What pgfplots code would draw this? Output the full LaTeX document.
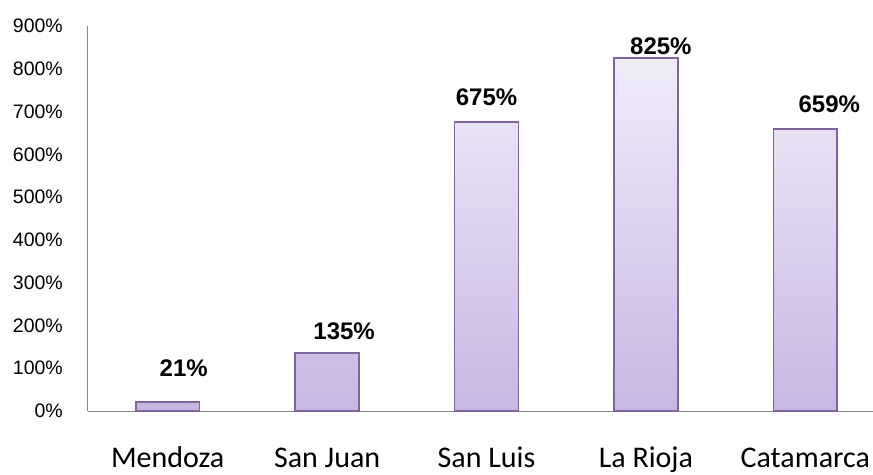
\documentclass[border=0pt]{standalone}
\usepackage{fontspec}
\setmainfont{Liberation Sans}
\newfontfamily\catfont{Carlito}
\usepackage{pgfplots}
\pgfplotsset{compat=1.18}
\usepackage{pgfplotstable}
\definecolor{barline}{HTML}{8064A2}
\definecolor{bartop}{HTML}{F0ECF8}
\definecolor{barbot}{HTML}{C8B6E3}
\definecolor{axgray}{HTML}{898989}
\pgfplotstableread{
x y dx dy lab
0 21 16 26 21
1 135 17 14 135
2 675 0 17 675
3 825 15 4 825
4 659 24 17 659
}\datatable
\begin{document}
\begin{tikzpicture}
\begin{axis}[
  at={(0,0)}, anchor=south west,
  scale only axis, width=797bp, height=385bp,
  xmin=-0.5, xmax=4.5, ymin=0, ymax=900,
  axis x line=bottom, axis y line=left,
  axis line style={draw=axgray, line width=1bp, -},
  major tick length=0pt,
  xtick={0,1,2,3,4},
  xticklabels={Mendoza,San Juan,San Luis,La Rioja,Catamarca},
  xticklabel style={font=\catfont\fontsize{30bp}{34bp}\selectfont, anchor=base, yshift=-56bp, inner sep=0pt},
  ytick={0,100,...,900},
  yticklabels={0\%,100\%,200\%,300\%,400\%,500\%,600\%,700\%,800\%,900\%},
  yticklabel style={font=\fontsize{19.5bp}{22bp}\selectfont, anchor=east, inner sep=0pt, xshift=-25bp},
  clip=false,
  ybar, bar width=0.4,
]
\addplot[draw=barline, line width=1.6bp, top color=bartop, bottom color=barbot,
  visualization depends on={\thisrow{dx} \as \mydx},
  visualization depends on={\thisrow{dy} \as \mydy},
  nodes near coords={\pgfplotspointmeta\%},
  point meta=explicit symbolic,
  every node near coord/.append style={font=\bfseries\fontsize{24bp}{28bp}\selectfont, anchor=base, inner sep=0pt, xshift=\mydx*1bp, yshift=\mydy*1bp, text=black},
] table[x=x, y=y, meta=lab] {\datatable};
\end{axis}
\pgfresetboundingbox
\path (-88bp,-64bp) rectangle (785bp,411bp);
\end{tikzpicture}
\end{document}
